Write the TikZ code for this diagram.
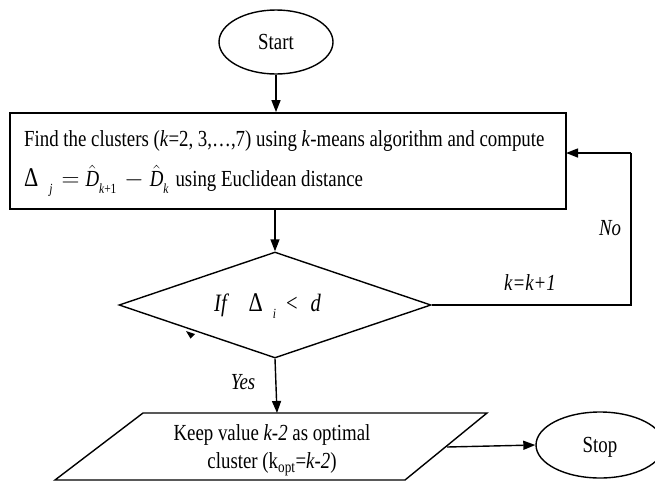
\documentclass[tikz,border=0pt]{standalone}
\usepackage{amsmath}
\usepackage{fontspec}
\setmainfont[FakeStretch=0.82]{Liberation Serif}
\usetikzlibrary{shapes.geometric,arrows.meta}
\tikzset{
  line/.style={line width=1.4pt, draw=black},
  arr/.style={line, -{Triangle[length=12pt,width=9pt]}},
  oval/.style={ellipse, draw, line width=1.4pt, inner sep=0pt},
  txt/.style={inner sep=0pt, font=\fontsize{23}{27}\selectfont},
  lbl/.style={inner sep=0pt, font=\fontsize{23}{27}\selectfont\itshape},
}
\newcommand{\itx}[1]{\text{\itshape #1}}
\newcommand{\lowsub}[1]{\raisebox{-7pt}{\fontsize{14}{14}\selectfont #1}}
\newcommand{\bigDelta}{{\fontsize{27}{27}\selectfont\upshape Δ}}
\begin{document}
\begin{tikzpicture}[x=1pt,y=-1pt]
\useasboundingbox (0,0) rectangle (655,488);
\begin{scope}
\clip (0,0) rectangle (655,488);
% Start
\node[oval, minimum width=114pt, minimum height=64pt, txt] (start) at (276,42) {Start};
% Process box
\node[draw, line width=1.8pt, minimum width=556pt, minimum height=96pt, inner sep=0pt] (box) at (288,161) {};
\node[txt, anchor=west] (l1) at (24,141) {Find the clusters (\textit{k}=2, 3,…,7) using \textit{k}-means algorithm and compute};
\node[txt, anchor=west] (l2) at (24,181) {\bigDelta\hspace{11pt}\lowsub{\itshape j}\hspace{9pt}$=$\hspace{6pt}$\hat{\itx{D}}$\lowsub{\itshape k\upshape +1}\hspace{8pt}$-$\hspace{6pt}$\hat{\itx{D}}$\lowsub{\itshape k}\hspace{7pt}using Euclidean distance};
% Decision
\node[diamond, draw, line width=1.4pt, minimum width=312pt, minimum height=106pt, inner sep=0pt] (dec) at (275,305) {};
\node[lbl, anchor=west, font=\fontsize{25}{29}\selectfont\itshape] (cond) at (214,306) {If\hspace{22pt}\bigDelta\hspace{10pt}\lowsub{\itshape i}\hspace{10pt}\upshape <\hspace{13pt}\itshape d};
% Parallelogram
\coordinate (ptl) at (143,413);
\coordinate (ptr) at (487,413);
\coordinate (pbr) at (405,480);
\coordinate (pbl) at (55,480);
\draw[line] (ptl) -- (ptr) -- (pbr) -- (pbl) -- cycle;
\coordinate (ptop) at (277,413);
\coordinate (pright) at (447,447);
\node[txt, align=center] (keep) at (272,450) {Keep value \textit{k-2} as optimal\\[1pt] cluster (k\textsubscript{opt}=\textit{k-2})};
% Stop
\node[oval, minimum width=128pt, minimum height=66pt, txt] (stop) at (600,445) {};
\node[txt] (stoptxt) at (600,447) {Stop};
% connectors
\draw[arr] (start.south) -- (box.north -| start.south);
\draw[arr] (box.south -| dec.north) -- (dec.north);
\coordinate (loopa) at (631,305);
\coordinate (loopb) at (631,153);
\coordinate (boxin) at (566,153);
\draw[line] (dec.east) -- (loopa) -- (loopb);
\draw[arr] (loopb) -- (boxin);
\draw[arr] (dec.south) -- (ptop);
\draw[arr] (pright) -- (stop.west);
% artifact arrowhead
\fill (186,331) -- (195,334) -- (190.5,338.5) -- cycle;
% labels
\node[lbl] (no) at (610,228) {No};
\node[lbl] (kk) at (530,283) {k=k+1};
\node[lbl] (yes) at (243,382) {Yes};
\end{scope}
\end{tikzpicture}
\end{document}
